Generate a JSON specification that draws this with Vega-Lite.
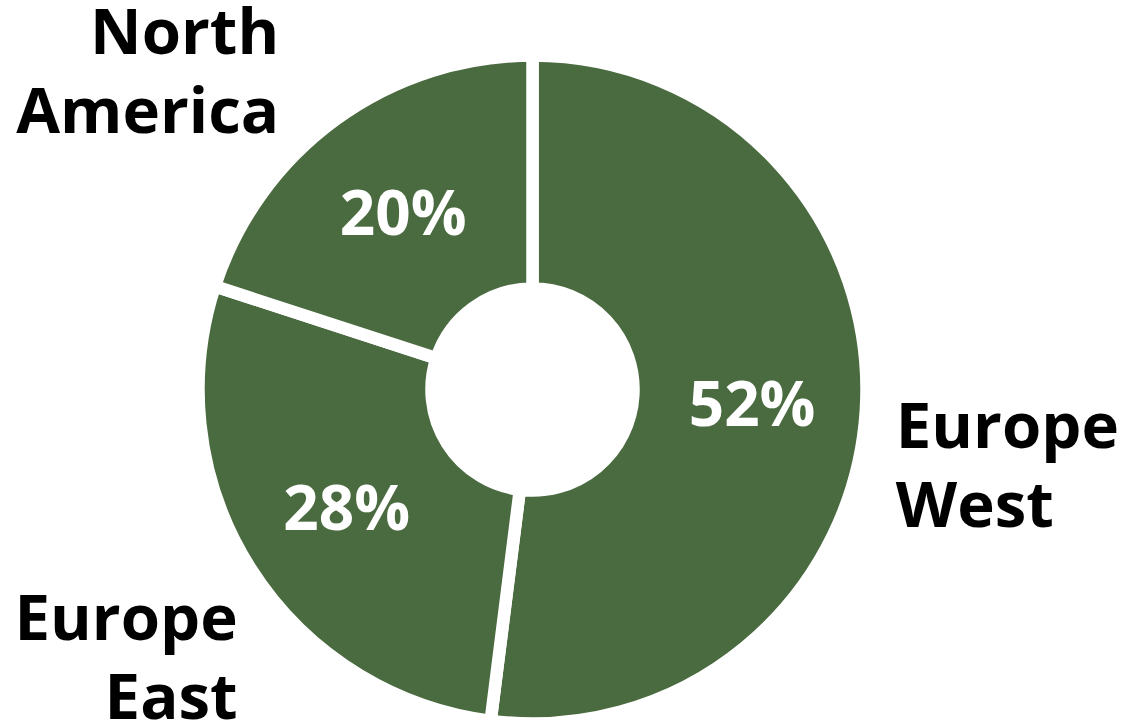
{
  "$schema": "https://vega.github.io/schema/vega-lite/v6.json",
  "autosize": "none",
  "width": 1065,
  "height": 671,
  "padding": {"left": 0, "top": 54, "right": 61, "bottom": 0},
  "background": "white",
  "config": {"view": {"stroke": null}, "font": "Open Sans"},
  "data": {
    "values": [
      {"region": "Europe West", "label": "Europe\nWest", "share": 0.52},
      {"region": "Europe East", "label": "Europe\nEast", "share": 0.28},
      {"region": "North America", "label": "North\nAmerica", "share": 0.20}
    ]
  },
  "encoding": {
    "theta": {"field": "share", "type": "quantitative", "stack": true},
    "order": {"field": "share", "type": "quantitative", "sort": "descending"}
  },
  "layer": [
    {
      "mark": {"type": "arc", "innerRadius": 101, "outerRadius": 334, "stroke": "white", "strokeWidth": 12.5, "color": "#4a6a3f", "fillOpacity": 1}
    },
    {
      "mark": {"type": "text", "radius": 220, "dy": 4, "fontSize": 62, "fontWeight": "bold", "font": "Open Sans", "color": "white", "align": "center", "baseline": "middle"},
      "encoding": {"text": {"field": "share", "type": "quantitative", "format": ".0%"}}
    },
    {
      "mark": {"type": "text", "radius": 380, "dx": -30, "dy": -47, "fontSize": 63.5, "fontWeight": "bold", "font": "Open Sans", "color": "black", "align": "right", "baseline": "middle", "lineBreak": "\n", "lineHeight": 79},
      "encoding": {"text": {"condition": {"test": "datum.region === 'North America'", "field": "label"}, "value": ""}}
    },
    {
      "mark": {"type": "text", "radius": 380, "dx": -16, "dy": 16, "fontSize": 63.5, "fontWeight": "bold", "font": "Open Sans", "color": "black", "align": "left", "baseline": "middle", "lineBreak": "\n", "lineHeight": 79},
      "encoding": {"text": {"condition": {"test": "datum.region === 'Europe West'", "field": "label"}, "value": ""}}
    },
    {
      "mark": {"type": "text", "radius": 380, "dx": 26, "dy": 28, "fontSize": 63.5, "fontWeight": "bold", "font": "Open Sans", "color": "black", "align": "right", "baseline": "middle", "lineBreak": "\n", "lineHeight": 79},
      "encoding": {"text": {"condition": {"test": "datum.region === 'Europe East'", "field": "label"}, "value": ""}}
    }
  ]
}
